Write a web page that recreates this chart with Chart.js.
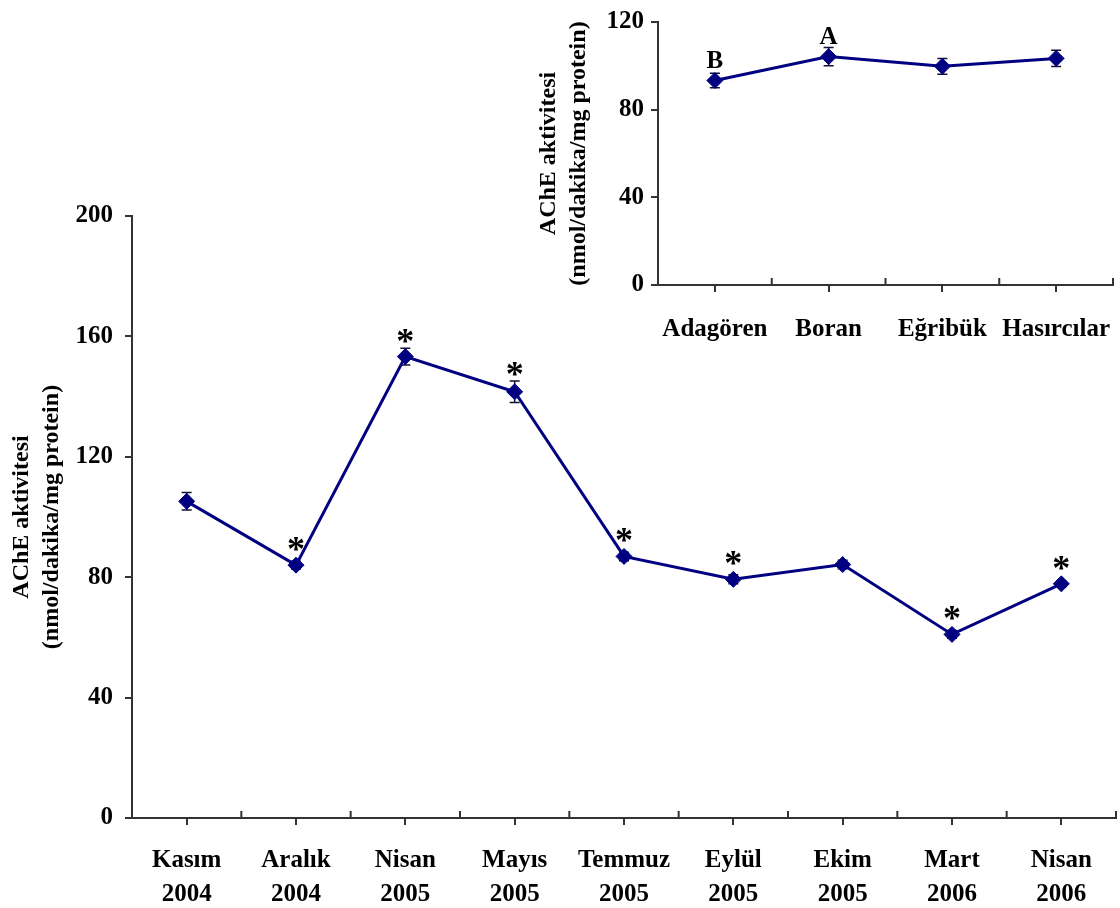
<!DOCTYPE html>
<html lang="tr">
<head>
<meta charset="UTF-8">
<title>AChE aktivitesi</title>
<script src="https://cdn.jsdelivr.net/npm/chart.js"></script>
<style>
  html, body { margin: 0; padding: 0; background: #fff; }
  #wrap { position: relative; width: 1120px; height: 908px; }
  #mainChart { position: absolute; left: 0; top: 0; }
  #insetChart { position: absolute; left: 520px; top: 0; }
</style>
</head>
<body>
<div id="wrap">
  <canvas id="mainChart" width="1120" height="908"></canvas>
  <canvas id="insetChart" width="600" height="350"></canvas>
</div>
<script>
// monthly sampling (main chart)
const months = [['Kasım','2004'],['Aralık','2004'],['Nisan','2005'],['Mayıs','2005'],['Temmuz','2005'],
                ['Eylül','2005'],['Ekim','2005'],['Mart','2006'],['Nisan','2006']];
const monthMeans = [105.2, 84.0, 153.3, 141.6, 86.9, 79.3, 84.2, 61.0, 77.8];
const monthErrors = [2.9, 1.3, 2.8, 3.6, 1.4, 1.5, 1.4, 1.3, 1.0];
const monthMarks = ['', '*', '*', '*', '*', '*', '', '*', '*'];
const monthTicks = [0, 40, 80, 120, 160, 200];

// sampling sites (inset)
const sites = ['Adagören', 'Boran', 'Eğribük', 'Hasırcılar'];
const siteMeans = [93.3, 104.2, 99.8, 103.4];
const siteErrors = [3.3, 4.2, 3.6, 3.7];
const siteMarks = ['B', 'A', '', ''];
const siteTicks = [0, 40, 80, 120];

const FONT = "'Liberation Serif', 'Times New Roman', serif";
const NAVY = '#000080';
const AXIS = '#333333';

// error bars, significance marks and the Excel-style upward ticks between categories
const extras = {
  id: 'extras',
  beforeDatasetsDraw(chart, args, opts) {
    const ctx = chart.ctx, y = chart.scales.y;
    const meta = chart.getDatasetMeta(0);
    const vals = chart.data.datasets[0].data;
    ctx.save();
    ctx.strokeStyle = '#111133';
    ctx.lineWidth = 1.5;
    meta.data.forEach((pt, i) => {
      const top = y.getPixelForValue(vals[i] + opts.errors[i]);
      const bot = y.getPixelForValue(vals[i] - opts.errors[i]);
      ctx.beginPath();
      ctx.moveTo(pt.x, top); ctx.lineTo(pt.x, bot);
      ctx.moveTo(pt.x - 5, top); ctx.lineTo(pt.x + 5, top);
      ctx.moveTo(pt.x - 5, bot); ctx.lineTo(pt.x + 5, bot);
      ctx.stroke();
    });
    ctx.restore();
  },
  afterDatasetsDraw(chart, args, opts) {
    const ctx = chart.ctx, y = chart.scales.y;
    const meta = chart.getDatasetMeta(0);
    const vals = chart.data.datasets[0].data;
    ctx.save();
    ctx.fillStyle = '#000';
    ctx.textAlign = 'center';
    ctx.textBaseline = 'alphabetic';
    meta.data.forEach((pt, i) => {
      const m = opts.marks[i];
      if (!m) return;
      ctx.font = (m === '*' ? 'bold 36px ' : 'bold 25px ') + FONT;
      const errTop = y.getPixelForValue(vals[i] + opts.errors[i]);
      const cy = Math.min(pt.y - 21, errTop - 12);
      const tm = ctx.measureText(m);
      const base = cy + (tm.actualBoundingBoxAscent - tm.actualBoundingBoxDescent) / 2;
      ctx.fillText(m, pt.x, base);
    });
    ctx.restore();
  },
  afterDraw(chart) {
    const ctx = chart.ctx, x = chart.scales.x;
    const n = chart.data.labels.length;
    ctx.save();
    ctx.strokeStyle = AXIS;
    ctx.lineWidth = 2;
    ctx.beginPath();
    for (let i = 1; i <= n; i++) {
      const px = x.getPixelForValue(i - 0.5);
      ctx.moveTo(px, x.top);
      ctx.lineTo(px, x.top - 7);
    }
    ctx.stroke();
    ctx.restore();
  }
};

function makeChart(id, labels, data, errors, marks, ticks, box) {
  return new Chart(document.getElementById(id), {
    type: 'line',
    data: {
      labels: labels,
      datasets: [{
        data: data,
        borderColor: NAVY,
        backgroundColor: NAVY,
        borderWidth: 3,
        pointStyle: 'rectRot',
        pointRadius: 8,
        pointBorderWidth: 1,
        tension: 0
      }]
    },
    options: {
      responsive: false,
      animation: false,
      layout: {
        autoPadding: false,
        padding: { top: box.top, right: box.right, left: 0, bottom: 0 }
      },
      plugins: {
        legend: { display: false },
        tooltip: { enabled: false },
        extras: { errors: errors, marks: marks }
      },
      scales: {
        x: {
          offset: true,
          afterFit: s => { s.height = box.xHeight; s.paddingLeft = 0; s.paddingRight = 0; },
          grid: { drawOnChartArea: false, tickLength: 7, color: AXIS, lineWidth: 2, offset: false },
          border: { color: AXIS, width: 2 },
          ticks: {
            color: '#000', padding: box.xPad, maxRotation: 0, autoSkip: false,
            font: { family: FONT, size: 25, weight: 'bold', lineHeight: '34px' }
          }
        },
        y: {
          min: ticks[0],
          max: ticks[ticks.length - 1],
          afterFit: s => { s.width = box.yWidth; },
          afterBuildTicks: s => { s.ticks = ticks.map(v => ({ value: v })); },
          grid: { drawOnChartArea: false, tickLength: 7, color: AXIS, lineWidth: 2 },
          border: { color: AXIS, width: 2 },
          ticks: {
            color: '#000', padding: box.yPad,
            font: { family: FONT, size: 25, weight: 'bold' }
          },
          title: {
            display: true,
            text: ['AChE aktivitesi', '(nmol/dakika/mg protein)'],
            color: '#000',
            padding: { top: box.titlePad, bottom: 0 },
            font: { family: FONT, size: 24, weight: 'bold', lineHeight: '30px' }
          }
        }
      }
    },
    plugins: [extras]
  });
}

makeChart('mainChart', months, monthMeans, monthErrors, monthMarks, monthTicks,
  { top: 216, right: 4, xHeight: 90, yWidth: 132, titlePad: 7, xPad: 19, yPad: 12 });
makeChart('insetChart', sites, siteMeans, siteErrors, siteMarks, siteTicks,
  { top: 16, right: 7, xHeight: 65, yWidth: 138, titlePad: 14, xPad: 21, yPad: 7 });
</script>
</body>
</html>
